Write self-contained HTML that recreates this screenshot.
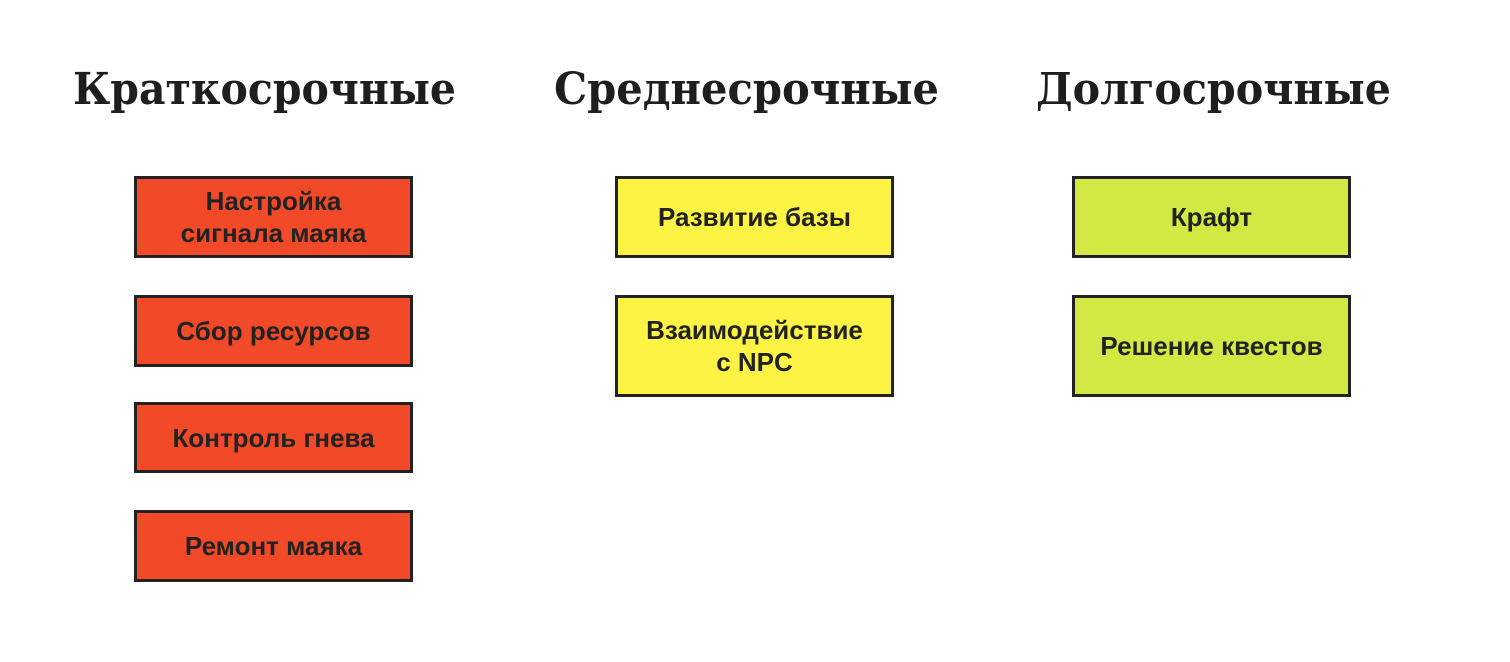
<!DOCTYPE html>
<html><head><meta charset="utf-8"><style>
body{margin:0;width:1510px;height:662px;background:#fff;position:relative;overflow:hidden;font-family:"Liberation Sans",sans-serif}
.b{position:absolute;box-sizing:border-box;border:3px solid #222;display:flex;align-items:center;justify-content:center;text-align:center;font-weight:bold;font-size:26px;line-height:32px;color:#222;width:279px}
.r{background:#f24a28}.y{background:#fdf344}.g{background:#d3e843}
svg{position:absolute;left:0;top:0}
</style></head><body>
<svg width="1510" height="662"><g style="font-family:'DejaVu Serif',serif;font-weight:bold" font-size="44" fill="#1e1e1e">
<text x="73" y="104" textLength="383" lengthAdjust="spacingAndGlyphs">Краткосрочные</text>
<text x="554" y="104" textLength="385" lengthAdjust="spacingAndGlyphs">Среднесрочные</text>
<text x="1036" y="104" textLength="355" lengthAdjust="spacingAndGlyphs">Долгосрочные</text>
</g></svg>
<div class="b r" style="left:134px;top:176px;height:82px">Настройка<br>сигнала маяка</div>
<div class="b r" style="left:134px;top:295px;height:72px">Сбор ресурсов</div>
<div class="b r" style="left:134px;top:402px;height:71px">Контроль гнева</div>
<div class="b r" style="left:134px;top:510px;height:72px">Ремонт маяка</div>
<div class="b y" style="left:615px;top:176px;height:82px">Развитие базы</div>
<div class="b y" style="left:615px;top:295px;height:102px">Взаимодействие<br>с NPC</div>
<div class="b g" style="left:1072px;top:176px;height:82px">Крафт</div>
<div class="b g" style="left:1072px;top:295px;height:102px">Решение квестов</div>
</body></html>
